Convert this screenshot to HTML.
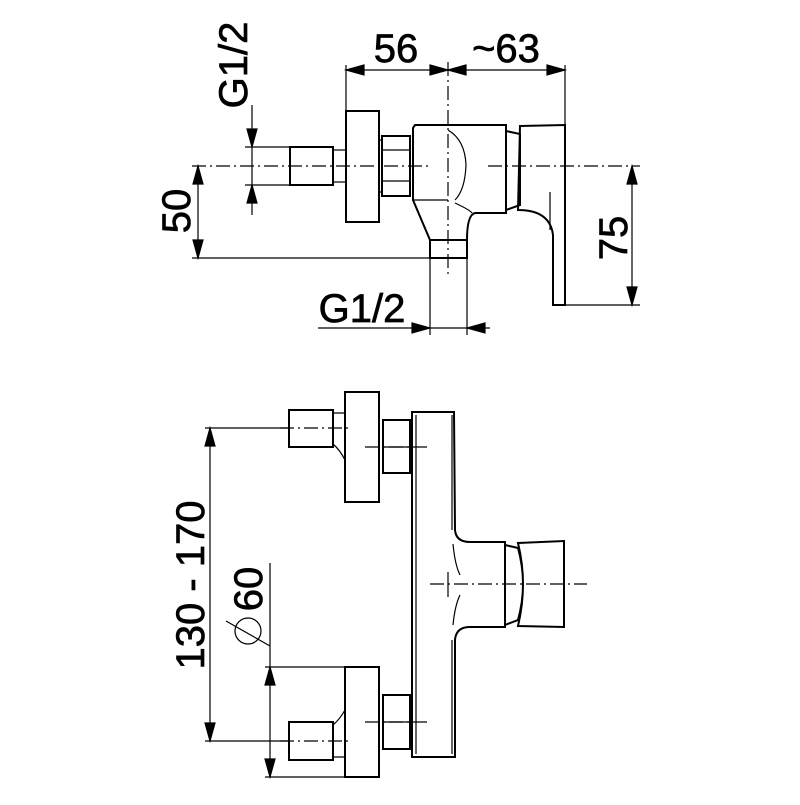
<!DOCTYPE html>
<html><head><style>html,body{margin:0;padding:0;background:#fff}</style></head><body>
<svg width="800" height="800" viewBox="0 0 800 800" xmlns="http://www.w3.org/2000/svg" font-family="Liberation Sans, sans-serif">
<g fill="none" stroke="#000" stroke-width="1.2">
<!-- TOP VIEW -->
<line x1="346" y1="65" x2="346" y2="111"/>
<line x1="565" y1="65" x2="565" y2="125"/>
<line x1="346" y1="70" x2="565" y2="70"/>
<path d="M364,65L346,70L364,75zM430,65L448,70L430,75zM466,65L448,70L466,75zM547,65L565,70L547,75z" fill="#000"/>
<line x1="448" y1="62" x2="448" y2="275" stroke-dasharray="14,4,2,4"/>
<line x1="192" y1="166" x2="430" y2="166" stroke-dasharray="14,4,2,4"/>
<line x1="488" y1="166" x2="640" y2="166" stroke-dasharray="14,4,2,4"/>
<line x1="252" y1="105" x2="252" y2="215"/>
<line x1="245" y1="147" x2="290" y2="147"/>
<line x1="245" y1="185" x2="290" y2="185"/>
<path d="M247,129L252,147L257,129zM247,203L252,185L257,203z" fill="#000"/>
<rect x="290" y="147" width="43" height="38" stroke-width="2"/>
<line x1="333" y1="150" x2="346" y2="150"/><line x1="333" y1="182" x2="346" y2="182"/>
<rect x="346" y="111" width="33" height="111" stroke-width="2"/>
<rect x="382" y="136" width="28" height="60" stroke-width="2"/>
<line x1="382" y1="150" x2="410" y2="150"/><line x1="382" y1="181" x2="410" y2="181"/>
<line x1="379" y1="140" x2="382" y2="140"/><line x1="379" y1="192" x2="382" y2="192"/>
<path d="M413,128L415,125L506,125L506,213L475,213Q467,215 467,240L430,240L413,200Z" stroke-width="2"/>
<line x1="413" y1="200" x2="448" y2="200"/>
<path d="M448,130Q465,140 466,165Q465,190 455,200" />
<path d="M455,203Q470,210 472,213"/>
<rect x="430" y="240" width="37" height="18" stroke-width="2"/>
<path d="M506,131L520,134L520,205L506,210Z" stroke-width="2"/>
<path d="M520,126L565,125L565,305L553,305L553,235Q550,210 518,210L520,126Z" stroke-width="2"/>
<line x1="550" y1="192" x2="550" y2="230"/>
<line x1="198" y1="166" x2="198" y2="258"/>
<line x1="192" y1="258" x2="430" y2="258"/>
<path d="M193,184L198,166L203,184zM193,240L198,258L203,240z" fill="#000"/>
<line x1="632" y1="166" x2="632" y2="305"/>
<line x1="565" y1="305" x2="640" y2="305"/>
<path d="M627,184L632,166L637,184zM627,287L632,305L637,287z" fill="#000"/>
<line x1="430" y1="258" x2="430" y2="335"/><line x1="467" y1="258" x2="467" y2="335"/>
<line x1="318" y1="328" x2="490" y2="328"/>
<path d="M412,323L430,328L412,333zM485,323L467,328L485,333z" fill="#000"/>

<!-- BOTTOM VIEW -->
<rect x="345" y="392" width="34" height="110" stroke-width="2"/>
<rect x="289" y="410" width="44" height="37" stroke-width="2"/>
<path d="M333,413L345,413M333,444Q340,450 345,460"/>
<line x1="280" y1="428" x2="352" y2="428" stroke-dasharray="14,4,2,4"/>
<rect x="383" y="420" width="27" height="53" stroke-width="2"/>
<line x1="383" y1="447" x2="410" y2="447"/>
<line x1="365" y1="447" x2="428" y2="447" stroke-dasharray="14,4,2,4"/>
<path d="M412,412L454,412L455,530Q456,542 470,542L505,542L505,627L470,627Q456,627 455,640L455,757L412,757Z" stroke-width="2"/>
<line x1="416" y1="415" x2="416" y2="754"/>
<path d="M452,415L452,530M452,640L452,754M453,544Q455,565 460,575M453,625Q455,605 460,595"/>
<path d="M505,545L518,548Q528,584 518,620L505,625M518,543L564,541L564,627L518,626Q528,584 518,543Z" stroke-width="2"/>
<line x1="430" y1="584" x2="587" y2="584" stroke-dasharray="14,4,2,4"/>
<line x1="448" y1="572" x2="448" y2="597"/>
<rect x="345" y="667" width="34" height="110" stroke-width="2"/>
<rect x="289" y="722" width="44" height="38" stroke-width="2"/>
<path d="M333,757L345,757M333,725Q340,719 345,710"/>
<rect x="383" y="695" width="27" height="54" stroke-width="2"/>
<line x1="383" y1="722" x2="410" y2="722"/>
<line x1="365" y1="722" x2="428" y2="722" stroke-dasharray="14,4,2,4"/>
<line x1="280" y1="741" x2="352" y2="741" stroke-dasharray="14,4,2,4"/>
<line x1="205" y1="428" x2="290" y2="428"/>
<line x1="205" y1="741" x2="290" y2="741"/>
<line x1="210" y1="428" x2="210" y2="741"/>
<path d="M205,446L210,428L215,446zM205,723L210,741L215,723z" fill="#000"/>
<line x1="270" y1="563" x2="270" y2="777"/>
<line x1="265" y1="667" x2="345" y2="667"/>
<line x1="265" y1="777" x2="345" y2="777"/>
<path d="M265,685L270,667L275,685zM265,759L270,777L275,759z" fill="#000"/>
<circle cx="248" cy="631" r="13"/>
<line x1="226" y1="621" x2="270" y2="646"/>
</g>
<g font-size="40" fill="#000" stroke="#000" stroke-width="0.7">
<text x="396" y="62" text-anchor="middle">56</text>
<text x="506" y="62" text-anchor="middle">~63</text>
<text x="362" y="322" text-anchor="middle">G1/2</text>
<text transform="translate(247,65) rotate(-90)" text-anchor="middle">G1/2</text>
<text transform="translate(190,211) rotate(-90)" text-anchor="middle">50</text>
<text transform="translate(627,238) rotate(-90)" text-anchor="middle">75</text>
<text transform="translate(204,585) rotate(-90)" text-anchor="middle">130 - 170</text>
<text transform="translate(262,589) rotate(-90)" text-anchor="middle">60</text>
</g>
</svg>
</body></html>
